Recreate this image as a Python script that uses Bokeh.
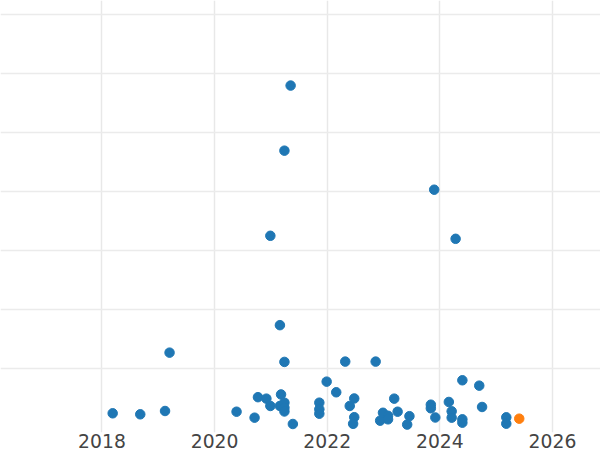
from bokeh.plotting import figure
from bokeh.models import ColumnDataSource, Range1d, FixedTicker
from bokeh.embed import file_html
from bokeh.resources import INLINE

# Main series (blue)
years = [2018.19, 2018.68, 2019.12, 2019.20, 2020.39, 2020.71, 2020.77, 2020.92, 2020.99, 2020.99,
         2021.16, 2021.18, 2021.16, 2021.24, 2021.24, 2021.24, 2021.24, 2021.24, 2021.35, 2021.39,
         2021.86, 2021.86, 2021.86, 2021.99, 2022.16, 2022.32, 2022.40, 2022.48, 2022.48, 2022.46,
         2022.86, 2022.94, 2022.99, 2023.08, 2023.08, 2023.19, 2023.25, 2023.46, 2023.42, 2023.84,
         2023.84, 2023.92, 2023.90, 2024.16, 2024.21, 2024.21, 2024.28, 2024.40, 2024.40, 2024.40,
         2024.70, 2024.75, 2025.18, 2025.18]
values = [2.49, 2.32, 2.88, 12.76, 2.76, 1.75, 5.22, 4.97, 3.73, 32.54,
          17.41, 5.68, 3.73, 4.29, 3.44, 2.80, 11.19, 46.95, 57.97, 0.68,
          4.29, 3.17, 2.42, 7.85, 6.05, 11.24, 3.73, 5.00, 1.83, 0.71,
          11.24, 1.24, 2.58, 2.07, 1.47, 4.97, 2.76, 2.00, 0.58, 3.95,
          3.34, 1.78, 40.34, 4.41, 2.83, 1.75, 32.03, 8.08, 1.47, 0.90,
          7.17, 3.56, 1.81, 0.73]

# Highlighted point (orange)
hl_years = [2025.41]
hl_values = [1.58]

x_ticks = [2016, 2018, 2020, 2022, 2024, 2026]
y_grid = [10, 20, 30, 40, 50, 60, 70]

src = ColumnDataSource(dict(x=years, y=values))
hl_src = ColumnDataSource(dict(x=hl_years, y=hl_values))

p = figure(width=600, height=450, output_backend="svg", toolbar_location=None,
           x_range=Range1d(2016.198, 2026.853), y_range=Range1d(-0.76, 72.37),
           min_border_left=0, min_border_right=0, min_border_top=0, min_border_bottom=0)

p.outline_line_color = None
p.background_fill_color = "white"
p.border_fill_color = "white"

p.yaxis.visible = False
p.xaxis.ticker = FixedTicker(ticks=x_ticks)
p.xaxis.axis_line_color = None
p.xaxis.major_tick_line_color = None
p.xaxis.minor_tick_line_color = None
p.xaxis.major_tick_out = 0
p.xaxis.major_tick_in = 0
p.xaxis.major_label_standoff = 1
p.xaxis.major_label_text_font = "DejaVu Sans"
p.xaxis.major_label_text_font_size = "18.75px"
p.xaxis.major_label_text_color = "#444444"

p.xgrid.ticker = FixedTicker(ticks=x_ticks)
p.ygrid.ticker = FixedTicker(ticks=y_grid)
p.xgrid.grid_line_color = "#e8e8e8"
p.ygrid.grid_line_color = "#ebebeb"
p.xgrid.grid_line_width = 1.5
p.ygrid.grid_line_width = 1.5

p.scatter("x", "y", source=src, size=9.5, fill_color="#1f77b4", line_color="#1f77b4")
p.scatter("x", "y", source=hl_src, size=9.5, fill_color="#ff7f0e", line_color="#ff7f0e")

open("out.html", "w").write(file_html(p, INLINE))
